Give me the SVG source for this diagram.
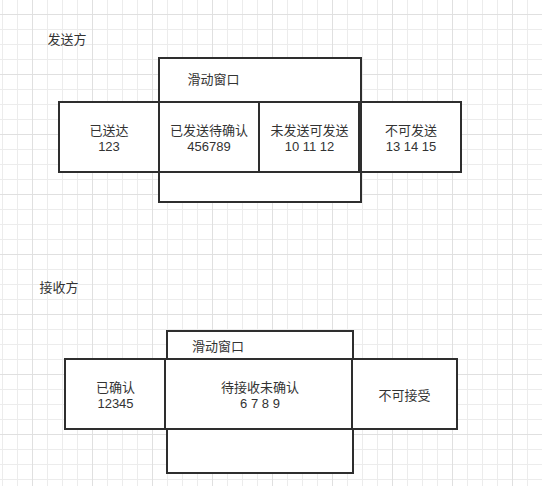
<svg xmlns="http://www.w3.org/2000/svg" width="542" height="486" viewBox="0 0 542 486">
  <style>
    .box { fill: #ffffff; stroke: #2e2e2e; stroke-width: 2; }
    .t { font-family: "Liberation Sans", "Noto Sans CJK SC", sans-serif; font-size: 13px; fill: #333333; text-anchor: middle; }
  </style>
  <defs>
    <pattern id="grid" x="32" y="14" width="60" height="60" patternUnits="userSpaceOnUse">
      <path d="M15.5 0V60M30.5 0V60M45.5 0V60M0 15.5H60M0 30.5H60M0 45.5H60" stroke="#ececec" stroke-width="1" fill="none"/>
      <path d="M0.5 0V60M0 0.5H60" stroke="#e0e0e0" stroke-width="1" fill="none"/>
    </pattern>
  </defs>
  <rect width="542" height="486" fill="#ffffff"/>
  <rect width="542" height="486" fill="url(#grid)"/>

  <g id="sender-label"><text class="t" x="67" y="44">发送方</text></g>

  <g id="sender-window">
    <rect class="box" x="159" y="58" width="202" height="144"/>
    <text class="t" x="213.5" y="84">滑动窗口</text>
  </g>
  <g id="sender-sent">
    <rect class="box" x="59" y="102" width="100" height="70"/>
    <text class="t" x="109" y="135">已送达</text>
    <text class="t" x="109" y="151">123</text>
  </g>
  <g id="sender-unacked">
    <rect class="box" x="159" y="102" width="100" height="70"/>
    <text class="t" x="209" y="135">已发送待确认</text>
    <text class="t" x="209" y="151">456789</text>
  </g>
  <g id="sender-sendable">
    <rect class="box" x="259" y="102" width="100" height="70"/>
    <text class="t" x="309.5" y="135">未发送可发送</text>
    <text class="t" x="309.5" y="151">10 11 12</text>
  </g>
  <g id="sender-unsendable">
    <rect class="box" x="361" y="102" width="100" height="70"/>
    <text class="t" x="411" y="135">不可发送</text>
    <text class="t" x="411" y="151">13 14 15</text>
  </g>

  <g id="receiver-label"><text class="t" x="59" y="292">接收方</text></g>

  <g id="receiver-window">
    <rect class="box" x="167" y="331" width="186" height="142"/>
    <text class="t" x="218" y="351">滑动窗口</text>
  </g>
  <g id="receiver-acked">
    <rect class="box" x="65" y="359" width="100" height="70"/>
    <text class="t" x="115.5" y="392">已确认</text>
    <text class="t" x="115.5" y="408">12345</text>
  </g>
  <g id="receiver-pending">
    <rect class="box" x="165" y="359" width="187" height="70"/>
    <text class="t" x="260" y="392">待接收未确认</text>
    <text class="t" x="260" y="408">6 7 8 9</text>
  </g>
  <g id="receiver-unacceptable">
    <rect class="box" x="352" y="359" width="105" height="70"/>
    <text class="t" x="404.5" y="399.5">不可接受</text>
  </g>
</svg>
